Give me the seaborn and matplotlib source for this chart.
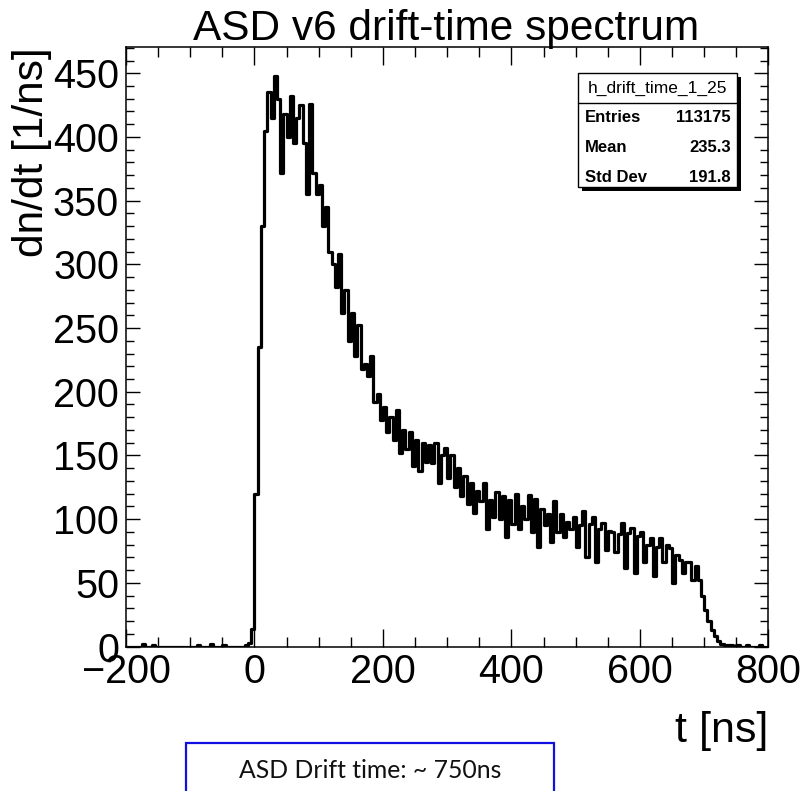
import numpy as np
import pandas as pd
import matplotlib
matplotlib.use("Agg")
import matplotlib.pyplot as plt
import seaborn as sns
from matplotlib.patches import Rectangle
from matplotlib.lines import Line2D
from matplotlib.ticker import MultipleLocator

# ---------------- data ----------------
title = "ASD v6 drift-time spectrum"
x_label = "t [ns]"
y_label = "dn/dt [1/ns]"
hist_name = "h_drift_time_1_25"
stat_names = ["Entries", "Mean", "Std Dev"]
stat_values = ["113175", "235.3", "191.8"]
note_text = "ASD Drift time: ~ 750ns"

t_min, t_max, bin_width = -200, 800, 5

# dn/dt per 5 ns bin
counts_before = [0, 0, 0, 0, 0, 2, 0, 0, 1, 0, 0, 0, 0, 0, 0, 0, 0, 0, 0, 0,
                 0, 0, 1, 0, 0, 0, 2, 0, 0, 0, 1, 0, 0, 0, 0, 0, 0, 1, 3, 14]      # -200 .. 0
counts_peak = [120, 235, 330, 405, 435, 415, 448, 430, 372, 418, 400, 432,
               395, 415, 425, 395, 355, 426, 372, 355, 362, 330, 345, 310]        # 0 .. 120
counts_fall = [300, 282, 308, 262, 280, 240, 262, 228, 252, 218, 222, 212,
               228, 192, 198, 178, 188, 168, 180, 162, 186, 152, 170, 155,
               168, 142, 162, 138, 160, 145, 158, 144, 160, 128, 150]            # 120 .. 295
counts_mid1 = [156, 132, 150, 125, 140, 118, 134, 112, 128, 105,
               122, 114, 128, 92, 115, 102, 121, 100, 118, 86]                     # 295 .. 395
counts_mid2 = [115, 96, 120, 92, 110, 100, 119, 90, 116, 78,
               108, 95, 104, 82, 114, 90, 104, 86, 98, 92]                         # 395 .. 495
counts_mid3 = [102, 78, 95, 106, 70, 96, 102, 66, 92, 97,
               76, 91, 90, 74, 88, 97, 62, 89, 93]                                 # 495 .. 590
counts_plateau = [58, 87, 90, 66, 80, 85, 55, 78, 85, 66,
                  80, 77, 50, 72, 68, 58, 66, 66, 52, 63]                          # 590 .. 690
counts_edge = [52, 40, 29, 20, 13, 8, 4, 2, 1, 1]                                  # 690 .. 740
counts_after = [1, 0, 1, 0, 0, 1, 0, 0, 0, 1, 0, 0]                                # 740 .. 800

counts = np.array(counts_before + counts_peak + counts_fall + counts_mid1 + counts_mid2
                  + counts_mid3 + counts_plateau + counts_edge + counts_after, dtype=float)
edges = np.arange(t_min, t_max + bin_width, bin_width)
centers = 0.5 * (edges[:-1] + edges[1:])
df = pd.DataFrame({"t": centers, "w": counts})

# ---------------- style ----------------
sns.set_style("ticks")
plt.rcParams["font.family"] = ["Liberation Sans", "DejaVu Sans"]
plt.rcParams["text.color"] = "black"
plt.rcParams["axes.labelcolor"] = "black"
plt.rcParams["xtick.color"] = "black"
plt.rcParams["ytick.color"] = "black"

W, H = 804, 791
fig = plt.figure(figsize=(W / 100, H / 100), dpi=100)
ax = fig.add_axes([126 / W, 1 - 646.5 / H, (768.5 - 126) / W, (646.5 - 47) / H])

sns.histplot(data=df, x="t", weights="w", binwidth=bin_width, binrange=(t_min, t_max),
             element="step", fill=False, color="black", linewidth=2.3, ax=ax)

ax.set_xlim(t_min, t_max)
ax.set_ylim(0, 470.6)
ax.xaxis.set_major_locator(MultipleLocator(200))
ax.xaxis.set_minor_locator(MultipleLocator(50))
ax.yaxis.set_major_locator(MultipleLocator(50))
ax.yaxis.set_minor_locator(MultipleLocator(10))

ax.tick_params(which="both", direction="in", top=True, right=True, width=1.0,
               color="black", labelsize=28.5, labelcolor="black")
ax.tick_params(axis="x", which="major", length=13, pad=5)
ax.tick_params(axis="x", which="minor", length=7)
ax.tick_params(axis="y", which="major", length=10, pad=5)
ax.tick_params(axis="y", which="minor", length=6)
for s in ax.spines.values():
    s.set_linewidth(1.1)
    s.set_color("black")

ax.set_xlabel(x_label, fontsize=31, loc="right", labelpad=14)
ax.set_ylabel(y_label, fontsize=30.5, loc="top", labelpad=1)

fig.text(446 / W, 1 - 40 / H, title, ha="center", va="baseline", fontsize=30.5)

# ---------------- stats box ----------------
bx0, bx1, by_top, by_bot = 578, 737, 73, 187
sh = 4
fig.patches.append(Rectangle(((bx0 + sh) / W, 1 - (by_bot + sh) / H), (bx1 - bx0) / W,
                             (by_bot - by_top) / H, transform=fig.transFigure,
                             facecolor="black", edgecolor="black", lw=0, zorder=5))
fig.patches.append(Rectangle((bx0 / W, 1 - by_bot / H), (bx1 - bx0) / W,
                             (by_bot - by_top) / H, transform=fig.transFigure,
                             facecolor="white", edgecolor="black", lw=1.0, zorder=6))
fig.lines.append(Line2D([bx0 / W, bx1 / W], [1 - 102.5 / H, 1 - 102.5 / H],
                        transform=fig.transFigure, color="black", lw=1.0, zorder=7))
fig.text((bx0 + bx1) / 2 / W, 1 - 88 / H, hist_name, ha="center", va="center",
         fontsize=12.5, zorder=8)
row_y = [118, 148, 177]
for name, val, yy in zip(stat_names, stat_values, row_y):
    fig.text(585 / W, 1 - yy / H, name, ha="left", va="center", fontsize=12,
             fontweight="bold", zorder=8)
    fig.text(731 / W, 1 - yy / H, val, ha="right", va="center", fontsize=12,
             fontweight="bold", zorder=8)

# ---------------- note box ----------------
fig.patches.append(Rectangle((186 / W, -0.05), (554 - 186) / W, (791 - 743) / H + 0.05,
                             transform=fig.transFigure, fill=False, edgecolor="#1010e0",
                             lw=1.6, zorder=5))
fig.text(370 / W, 1 - 771 / H, note_text, ha="center", va="center", fontsize=17.8,
         family=["Lato", "DejaVu Sans"], color="#111111")

fig.savefig("out.png", dpi=100)
